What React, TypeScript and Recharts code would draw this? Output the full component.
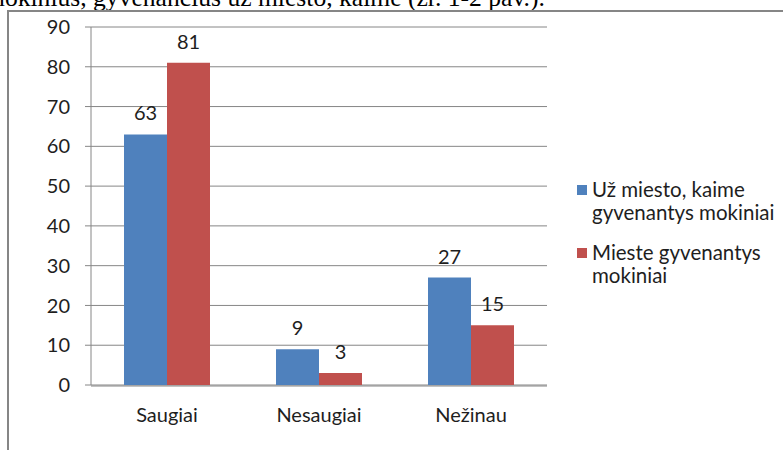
import React from 'react';
import { BarChart, Bar, XAxis, YAxis, CartesianGrid, LabelList, Legend } from 'recharts';

const categories = ['Saugiai', 'Nesaugiai', 'Nežinau'];
const ruralValues = [63, 9, 27];
const cityValues = [81, 3, 15];
const seriesNames = ['Už miesto, kaime gyvenantys mokiniai', 'Mieste gyvenantys mokiniai'];
const legendLines = [
  ['Už miesto, kaime', 'gyvenantys mokiniai'],
  ['Mieste gyvenantys', 'mokiniai'],
];
const yTicks = [0, 10, 20, 30, 40, 50, 60, 70, 80, 90];
const boundaryTicks = [0, 1, 2, 3];

const BLUE = '#4F81BD';
const RED = '#C0504D';
const GRAY = '#868686';
const TEXT = '#1e1e1e';
const FONT = 'Lato, "Open Sans", sans-serif';

const data = categories.map((c, i) => ({ name: c, rural: ruralValues[i], city: cityValues[i] }));

const legendColors = [BLUE, RED];

function ChartLegend() {
  return (
    <div style={{ fontFamily: FONT, fontSize: 20.5, color: TEXT, lineHeight: '23px' }}>
      {legendLines.map((lines, i) => (
        <div key={seriesNames[i]} style={{ position: 'relative', paddingLeft: 15, marginBottom: 17 }}>
          <span
            style={{
              position: 'absolute', left: 0, top: 7, width: 10, height: 10,
              backgroundColor: legendColors[i],
            }}
          />
          {lines.map((l) => (
            <div key={l} style={{ whiteSpace: 'nowrap' }}>{l}</div>
          ))}
        </div>
      ))}
    </div>
  );
}

export default function App() {
  return (
    <div style={{ position: 'absolute', left: 0, top: 0, width: 783, height: 450, overflow: 'hidden', background: '#fff' }}>
      {/* cut-off line of document text above the chart */}
      <div
        style={{
          position: 'absolute', left: -15, top: -15, whiteSpace: 'nowrap',
          fontFamily: '"Liberation Serif", "Times New Roman", serif', fontSize: 25.6, lineHeight: '26px', color: '#000',
        }}
      >
        mokinius, gyvenančius už miesto, kaime (žr. 1-2 pav.).
      </div>
      {/* chart frame */}
      <div
        style={{
          position: 'absolute', left: 7, top: 10, width: 820, height: 480,
          border: `2px solid ${GRAY}`,
        }}
      />
      <div style={{ position: 'absolute', left: 0, top: 0 }}>
        <BarChart
          width={783}
          height={450}
          data={data}
          barSize={43}
          barGap={0}
          margin={{ top: 27, right: 236, left: 31, bottom: 0 }}
        >
          <CartesianGrid vertical={false} stroke={GRAY} strokeWidth={1} />
          <XAxis
            dataKey="name"
            height={1}
            axisLine={false}
            tickLine={false}
            tickSize={0}
            tickMargin={23}
            tick={{ fill: TEXT, fontSize: 20, fontFamily: FONT }}
          />
          <XAxis
            xAxisId="edges"
            type="number"
            domain={[0, 3]}
            ticks={boundaryTicks}
            allowDataOverflow
            height={64}
            tick={false}
            tickSize={6}
            stroke={GRAY}
          />
          <YAxis
            width={60}
            domain={[0, 90]}
            ticks={yTicks}
            tickSize={6}
            tickMargin={15}
            stroke={GRAY}
            tick={{ fill: TEXT, fontSize: 20, fontFamily: FONT }}
          />
          <Legend
            layout="vertical"
            align="center"
            verticalAlign="middle"
            wrapperStyle={{ left: 577, top: 178, width: 200, height: 'auto' }}
            content={() => <ChartLegend />}
          />
          <Bar dataKey="rural" name={seriesNames[0]} fill={BLUE} isAnimationActive={false}>
            <LabelList dataKey="rural" position="top" offset={14} fill={TEXT} fontSize={20} fontFamily={FONT} />
          </Bar>
          <Bar dataKey="city" name={seriesNames[1]} fill={RED} isAnimationActive={false}>
            <LabelList dataKey="city" position="top" offset={14} fill={TEXT} fontSize={20} fontFamily={FONT} />
          </Bar>
        </BarChart>
      </div>
    </div>
  );
}
